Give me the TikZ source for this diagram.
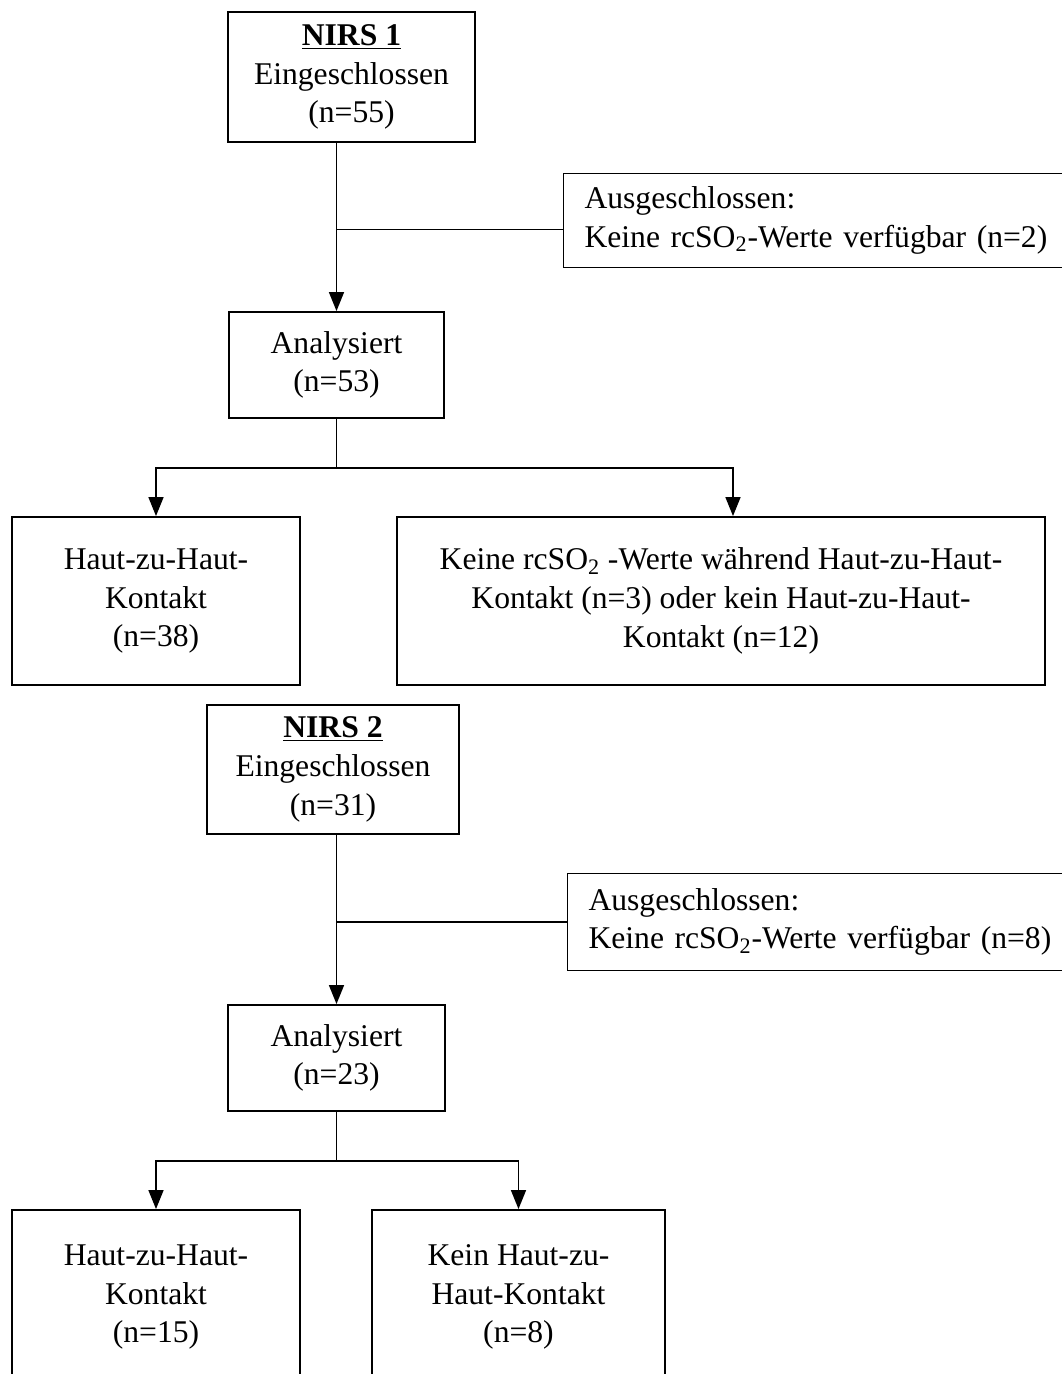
\documentclass[tikz,border=0pt]{standalone}
\usepackage{fontspec}
\setmainfont{Liberation Serif}
\usetikzlibrary{positioning, arrows.meta, calc}

\tikzset{
  box/.style={draw, line width=1.1pt, align=center, inner sep=0pt,
    font=\fontsize{18pt}{22pt}\selectfont},
  exclbox/.style={draw, line width=0.6pt, align=left, anchor=north west,
    text width=9.4cm, inner xsep=0.42cm, inner ysep=0pt,
    font=\fontsize{18pt}{22pt}\selectfont},
  conn/.style={line width=0.9pt},
  arr/.style={conn, -{Triangle[length=0.38cm,width=0.3cm]}}
}

\begin{document}
\begin{tikzpicture}[x=0.02cm, y=-0.02cm]

    \useasboundingbox (0,0) rectangle (1062,1374);

    % NIRS 1
    \node[box, minimum width=4.94cm, minimum height=2.6cm] (nirsA) at (351.5,77)
        {\underline{\textbf{NIRS 1}}\\Eingeschlossen\\(n=55)};
    \node[exclbox, minimum height=1.88cm] (exclA) at (563,173)
        {Ausgeschlossen:\\Keine rcSO\textsubscript{2}-Werte verfügbar (n=2)};
    \node[box, minimum width=4.3cm, minimum height=2.12cm] (anaA) at (336.5,365)
        {Analysiert\\(n=53)};
    \node[box, minimum width=5.76cm, minimum height=3.36cm] (hautA) at (156,601)
        {Haut-zu-Haut-\\Kontakt\\(n=38)};
    \node[box, minimum width=12.96cm, minimum height=3.36cm] (keineA) at (721,601)
        {Keine rcSO\textsubscript{2} -Werte während Haut-zu-Haut-\\Kontakt (n=3) oder kein Haut-zu-Haut-\\Kontakt (n=12)};

    % connectors NIRS 1
    \draw[arr] (nirsA.south -| anaA.north) -- (anaA.north);
    \coordinate (joinA) at ([yshift=-0.18cm]exclA.west);
    \draw[conn] (anaA.north |- joinA) -- (joinA);
    \coordinate (splitA) at (336.5,468);
    \draw[conn] (anaA.south) -- (splitA);
    \draw[arr] (splitA) -| (hautA.north);
    \draw[arr] (splitA) -| ([xshift=0.24cm]keineA.north);

    % NIRS 2
    \node[box, minimum width=5.04cm, minimum height=2.58cm] (nirsB) at (333,769.5)
        {\underline{\textbf{NIRS 2}}\\Eingeschlossen\\(n=31)};
    \node[exclbox, minimum height=1.94cm] (exclB) at (567,873)
        {Ausgeschlossen:\\Keine rcSO\textsubscript{2}-Werte verfügbar (n=8)};
    \node[box, minimum width=4.34cm, minimum height=2.12cm] (anaB) at (336.5,1058)
        {Analysiert\\(n=23)};
    \node[box, minimum width=5.76cm, minimum height=3.48cm] (hautB) at (156,1297)
        {Haut-zu-Haut-\\Kontakt\\(n=15)};
    \node[box, minimum width=5.86cm, minimum height=3.48cm] (keinB) at (518.5,1297)
        {Kein Haut-zu-\\Haut-Kontakt\\(n=8)};

    % connectors NIRS 2
    \draw[arr] (nirsB.south -| anaB.north) -- (anaB.north);
    \draw[conn] (anaB.north |- exclB.west) -- (exclB.west);
    \coordinate (splitB) at (336.5,1161);
    \draw[conn] (anaB.south) -- (splitB);
    \draw[arr] (splitB) -| (hautB.north);
    \draw[arr] (splitB) -| (keinB.north);

\end{tikzpicture}
\end{document}
